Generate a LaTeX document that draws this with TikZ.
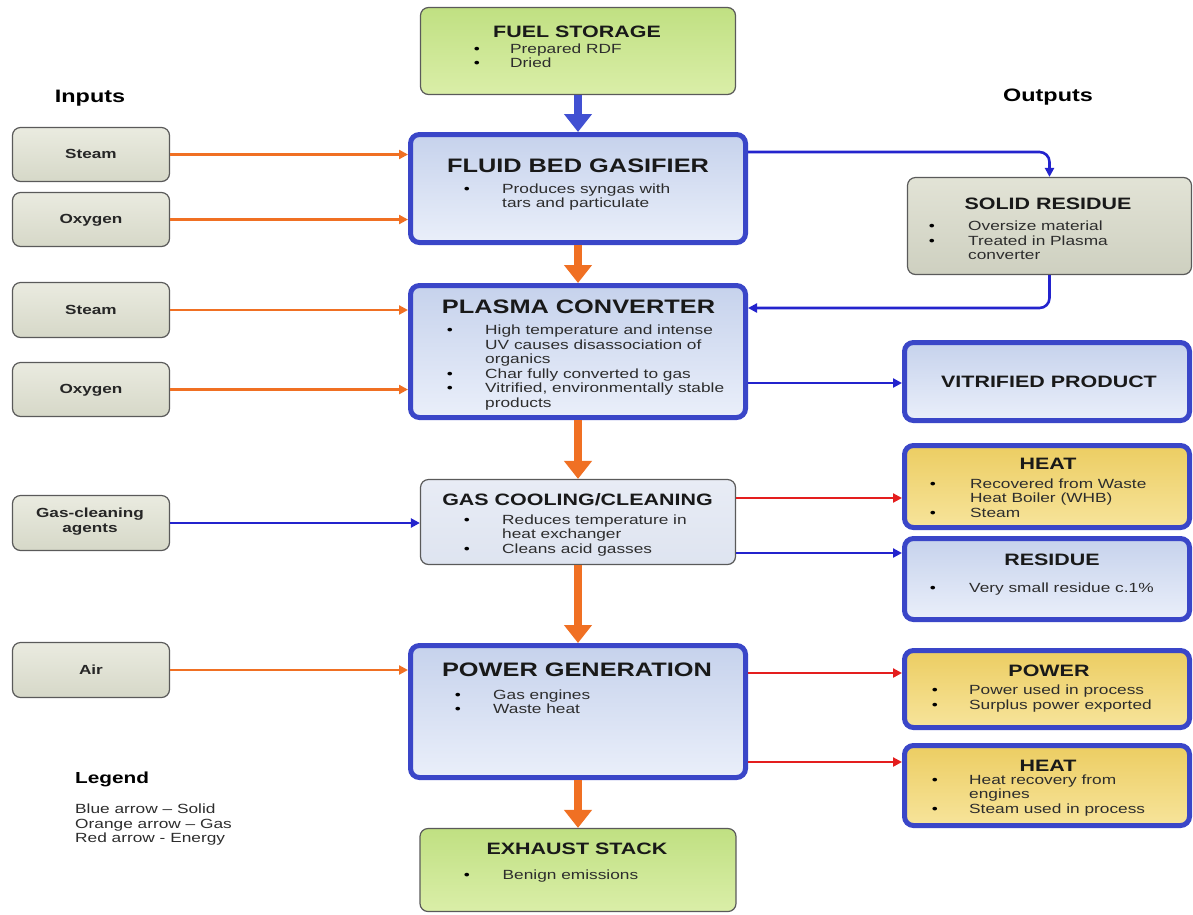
\documentclass[tikz,border=0pt]{standalone}
\usepackage{fontspec}
\setmainfont[FakeStretch=1.3]{Liberation Sans}
\usetikzlibrary{arrows.meta}
\definecolor{bblue}{RGB}{58,70,200}
\definecolor{ablue}{RGB}{35,35,205}
\definecolor{bigblue}{RGB}{65,80,210}
\definecolor{aorange}{RGB}{240,112,35}
\definecolor{ared}{RGB}{228,30,30}
\definecolor{mtop}{RGB}{198,210,236}
\definecolor{mbot}{RGB}{234,239,250}
\definecolor{gtop}{RGB}{192,224,130}
\definecolor{gbot}{RGB}{218,238,168}
\definecolor{ytop}{RGB}{236,205,98}
\definecolor{ybot}{RGB}{247,228,155}
\definecolor{itop}{RGB}{234,235,224}
\definecolor{ibot}{RGB}{214,216,200}
\definecolor{ctop}{RGB}{232,236,245}
\definecolor{cbot}{RGB}{222,228,240}
\definecolor{stop}{RGB}{226,227,214}
\definecolor{sbot}{RGB}{206,208,192}
\definecolor{bord}{RGB}{90,90,90}
\definecolor{txtg}{RGB}{45,45,45}
\begin{document}
\begin{tikzpicture}[x=1pt,y=-1pt,
  mainbox/.style={draw=bblue, line width=5pt, rounded corners=9pt, top color=mtop, bottom color=mbot, inner sep=0pt},
  yelbox/.style={draw=bblue, line width=5pt, rounded corners=9pt, top color=ytop, bottom color=ybot, inner sep=0pt},
  greenbox/.style={draw=bord, line width=1.2pt, rounded corners=8pt, top color=gtop, bottom color=gbot, inner sep=0pt},
  inbox/.style={draw=bord, line width=1.2pt, rounded corners=8pt, top color=itop, bottom color=ibot, inner sep=0pt, minimum width=157pt},
  coolbox/.style={draw=bord, line width=1.2pt, rounded corners=8pt, top color=ctop, bottom color=cbot, inner sep=0pt},
  resbox/.style={draw=bord, line width=1.2pt, rounded corners=8pt, top color=stop, bottom color=sbot, inner sep=0pt},
  ttl/.style={font=\bfseries\fontsize{19.5}{22}\selectfont, anchor=base, inner sep=0pt, text=black!90},
  ttls/.style={font=\bfseries\fontsize{16.5}{19}\selectfont, anchor=base, inner sep=0pt, text=black!90},
  intxt/.style={font=\bfseries\fontsize{13.2}{15}\selectfont, anchor=base, inner sep=0pt, text=black!85},
  txt/.style={font=\fontsize{13.3}{15}\selectfont, anchor=base west, inner sep=0pt, text=txtg},
  bul/.style={font=\fontsize{13.3}{15}\selectfont, anchor=base, inner sep=0pt, text=black},
  bigarrow/.style={line width=8pt, -{Triangle[width=27pt,length=18pt]}},
  thinarrow/.style={line width=2.6pt, -{Triangle[width=9pt,length=9pt]}}
]
\useasboundingbox (0,0) rectangle (1193,914);
\fill[white] (0,0) rectangle (1193,914);

% ---------- centre column ----------
\node[greenbox, minimum width=315pt, minimum height=87pt] (fuel) at (578,51) {};
\node[mainbox, minimum width=335pt, minimum height=108pt] (gas) at (578,188.5) {};
\node[mainbox, minimum width=335pt, minimum height=132pt] (plasma) at (578,351.5) {};
\node[coolbox, minimum width=315pt, minimum height=85pt] (cool) at (578,522) {};
\node[mainbox, minimum width=335pt, minimum height=132pt] (power) at (578,711.5) {};
\node[greenbox, minimum width=316pt, minimum height=83pt] (exhaust) at (578,870) {};

% ---------- inputs ----------
\node[inbox, minimum height=54pt] (s1) at (91,154.5) {};
\node[inbox, minimum height=54pt] (o1) at (91,219.5) {};
\node[inbox, minimum height=55pt] (s2) at (91,310) {};
\node[inbox, minimum height=54pt] (o2) at (91,389.5) {};
\node[inbox, minimum height=55pt] (gca) at (91,523) {};
\node[inbox, minimum height=55pt] (air) at (91,670) {};

% ---------- outputs ----------
\node[resbox, minimum width=284pt, minimum height=97pt] (solid) at (1049.5,226) {};
\node[mainbox, minimum width=285pt, minimum height=78pt] (vitr) at (1047,381.5) {};
\node[yelbox, minimum width=285pt, minimum height=82pt] (heat1) at (1047,486.5) {};
\node[mainbox, minimum width=285pt, minimum height=81pt] (resid) at (1047,579) {};
\node[yelbox, minimum width=285pt, minimum height=77pt] (pout) at (1047,689) {};
\node[yelbox, minimum width=285pt, minimum height=80pt] (heat2) at (1047,785.5) {};

% ---------- headings ----------
\node[font=\bfseries\fontsize{18}{20}\selectfont, anchor=base, inner sep=0pt] (inputs) at (90,102) {Inputs};
\node[font=\bfseries\fontsize{18}{20}\selectfont, anchor=base, inner sep=0pt] (outputs) at (1048,101) {Outputs};

% ---------- texts centre ----------
\node[ttls] (fuelt) at (577,37.5) {FUEL STORAGE};
\node[bul] (fuelb1) at (477,53) {•};
\node[txt] (fuelx1) at (510,53) {Prepared RDF};
\node[bul] (fuelb2) at (477,67) {•};
\node[txt] (fuelx2) at (510,67) {Dried};

\node[ttl] (gast) at (578,172.5) {FLUID BED GASIFIER};
\node[bul] (gasb1) at (467,193) {•};
\node[txt] (gasx1) at (502,193) {Produces syngas with};
\node[txt] (gasx2) at (502,207.5) {tars and particulate};

\node[ttl] (plt) at (578.5,313) {PLASMA CONVERTER};
\node[bul] (plb1) at (450,334.3) {•};
\node[txt] (plx1) at (485,334.3) {High temperature and intense};
\node[txt] (plx2) at (485,349) {UV causes disassociation of};
\node[txt] (plx3) at (485,363.5) {organics};
\node[bul] (plb4) at (450,378.3) {•};
\node[txt] (plx4) at (485,378.3) {Char fully converted to gas};
\node[bul] (plb5) at (450,392.7) {•};
\node[txt] (plx5) at (485,392.7) {Vitrified, environmentally stable};
\node[txt] (plx6) at (485,407.3) {products};

\node[ttls] (coolt) at (577.5,505) {GAS COOLING/CLEANING};
\node[bul] (coolb1) at (467,524.3) {•};
\node[txt] (coolx1) at (502,524.3) {Reduces temperature in};
\node[txt] (coolx2) at (502,538.7) {heat exchanger};
\node[bul] (coolb3) at (467,553.3) {•};
\node[txt] (coolx3) at (502,553.3) {Cleans acid gasses};

\node[ttl] (pgt) at (577,676) {POWER GENERATION};
\node[bul] (pgb1) at (458,699) {•};
\node[txt] (pgx1) at (493,699) {Gas engines};
\node[bul] (pgb2) at (458,713.3) {•};
\node[txt] (pgx2) at (493,713.3) {Waste heat};

\node[ttls] (ext) at (577,854.3) {EXHAUST STACK};
\node[bul] (exb1) at (467,879.3) {•};
\node[txt] (exx1) at (502.5,879.3) {Benign emissions};

% ---------- input texts ----------
\node[intxt] (s1t) at (91,158.3) {Steam};
\node[intxt] (o1t) at (91,223.3) {Oxygen};
\node[intxt] (s2t) at (91,314) {Steam};
\node[intxt] (o2t) at (91,393.3) {Oxygen};
\node[intxt] (gcat1) at (90,517.7) {Gas-cleaning};
\node[intxt] (gcat2) at (90,532.7) {agents};
\node[intxt] (airt) at (91,674) {Air};

% ---------- output texts ----------
\node[ttls] (solt) at (1048,209) {SOLID RESIDUE};
\node[bul] (solb1) at (932,230) {•};
\node[txt] (solx1) at (968,230) {Oversize material};
\node[bul] (solb2) at (932,245) {•};
\node[txt] (solx2) at (968,245) {Treated in Plasma};
\node[txt] (solx3) at (968,259.3) {converter};

\node[ttls] (vitt) at (1049,387.3) {VITRIFIED PRODUCT};

\node[ttls] (h1t) at (1048,469) {HEAT};
\node[bul] (h1b1) at (933,488.3) {•};
\node[txt] (h1x1) at (970,488.3) {Recovered from Waste};
\node[txt] (h1x2) at (970,502.7) {Heat Boiler (WHB)};
\node[bul] (h1b3) at (933,517.3) {•};
\node[txt] (h1x3) at (970,517.3) {Steam};

\node[ttls] (rest) at (1052,565) {RESIDUE};
\node[bul] (resb1) at (933,592.3) {•};
\node[txt] (resx1) at (969,592.3) {Very small residue c.1\%};

\node[ttls] (pot) at (1049,676) {POWER};
\node[bul] (pob1) at (935,694) {•};
\node[txt] (pox1) at (969,694) {Power used in process};
\node[bul] (pob2) at (935,709) {•};
\node[txt] (pox2) at (969,709) {Surplus power exported};

\node[ttls] (h2t) at (1048,771) {HEAT};
\node[bul] (h2b1) at (935,784) {•};
\node[txt] (h2x1) at (969,784) {Heat recovery from};
\node[txt] (h2x2) at (969,798.3) {engines};
\node[bul] (h2b3) at (935,813.3) {•};
\node[txt] (h2x3) at (969,813.3) {Steam used in process};

% ---------- legend ----------
\node[font=\bfseries\fontsize{16}{18}\selectfont, anchor=base west, inner sep=0pt] (legt) at (75,783.3) {Legend};
\node[txt] (leg1) at (75,813.3) {Blue arrow – Solid};
\node[txt] (leg2) at (75,828.3) {Orange arrow – Gas};
\node[txt] (leg3) at (75,842.7) {Red arrow - Energy};

% ---------- main flow arrows ----------
\draw[bigarrow, bigblue] (fuel.south) -- (gas.north);
\draw[bigarrow, aorange] (gas.south) -- (plasma.north);
\draw[bigarrow, aorange] (plasma.south) -- (cool.north);
\draw[bigarrow, aorange] (cool.south) -- (power.north);
\draw[bigarrow, aorange] (power.south) -- (exhaust.north);

% ---------- input arrows ----------
\draw[thinarrow, aorange] (s1.east) -- (s1.east -| gas.west);
\draw[thinarrow, aorange] (o1.east) -- (o1.east -| gas.west);
\draw[thinarrow, aorange] (s2.east) -- (s2.east -| plasma.west);
\draw[thinarrow, aorange] (o2.east) -- (o2.east -| plasma.west);
\draw[thinarrow, ablue] (gca.east) -- (gca.east -| cool.west);
\draw[thinarrow, aorange] (air.east) -- (air.east -| power.west);

% ---------- output arrows ----------
\coordinate (gs) at ([yshift=36.5pt]gas.east);
\coordinate (ps) at ([yshift=43.5pt]plasma.east);
\coordinate (pv) at ([yshift=-31.5pt]plasma.east);
\coordinate (ch) at ([yshift=24pt]cool.east);
\coordinate (cr) at ([yshift=-31pt]cool.east);
\coordinate (pp) at ([yshift=38.5pt]power.east);
\coordinate (ph) at ([yshift=-50.5pt]power.east);
\draw[thinarrow, ablue, rounded corners=10pt] (gs) -| (solid.north);
\draw[thinarrow, ablue, rounded corners=10pt] (solid.south) |- (ps);
\draw[thinarrow, ablue] (pv) -- (pv -| vitr.west);
\draw[thinarrow, ared] (ch) -- (ch -| heat1.west);
\draw[thinarrow, ablue] (cr) -- (cr -| resid.west);
\draw[thinarrow, ared] (pp) -- (pp -| pout.west);
\draw[thinarrow, ared] (ph) -- (ph -| heat2.west);
\end{tikzpicture}
\end{document}
